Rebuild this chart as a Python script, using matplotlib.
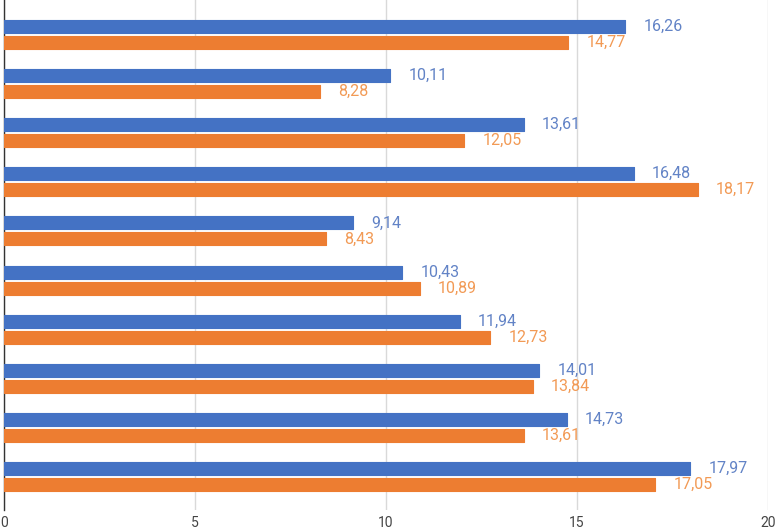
import numpy as np
import matplotlib
matplotlib.use("Agg")
import matplotlib.pyplot as plt

blue_vals = [16.26, 10.11, 13.61, 16.48, 9.14, 10.43, 11.94, 14.01, 14.73, 17.97]
orange_vals = [14.77, 8.28, 12.05, 18.17, 8.43, 10.89, 12.73, 13.84, 13.61, 17.05]
x_ticks = [0, 5, 10, 15, 20]

BLUE = "#4472C4"
ORANGE = "#ED7D31"
BLUE_TXT = "#6283C6"
ORANGE_TXT = "#F29A55"

plt.rcParams["font.family"] = ["Roboto", "DejaVu Sans"]

fig = plt.figure(figsize=(7.78, 5.31), dpi=100)
ax = fig.add_axes([4 / 778, 21 / 531, 764 / 778, 510 / 531])

y = np.arange(len(blue_vals))
h = 0.265
off = 0.163

for vals, dy, col, tcol in [(blue_vals, -off, BLUE, BLUE_TXT),
                            (orange_vals, off, ORANGE, ORANGE_TXT)]:
    bars = ax.barh(y + dy, vals, height=h, color=col, edgecolor=col,
                   linewidth=0.8, zorder=3)
    for b in bars:
        b.set_joinstyle("round")
    for yy, v in zip(y + dy, vals):
        ax.annotate(f"{v:.2f}".replace(".", ","), (v, yy),
                    xytext=(13, 0), textcoords="offset points",
                    ha="left", va="center", fontsize=11.5, color=tcol)

ax.set_xlim(0, 20)
ax.set_ylim(9.68, -0.70)
ax.set_xticks(x_ticks)
ax.set_xticklabels([str(t) for t in x_ticks])
ax.set_yticks([])
ax.tick_params(axis="x", length=0, pad=4, labelsize=10, labelcolor="#444444")
ax.grid(axis="x", color="#d9d9d9", linewidth=1, zorder=0)
for s in ["top", "right", "bottom"]:
    ax.spines[s].set_visible(False)
ax.spines["left"].set_color("#333333")
ax.spines["left"].set_linewidth(1)

fig.savefig("out.png", dpi=100)
